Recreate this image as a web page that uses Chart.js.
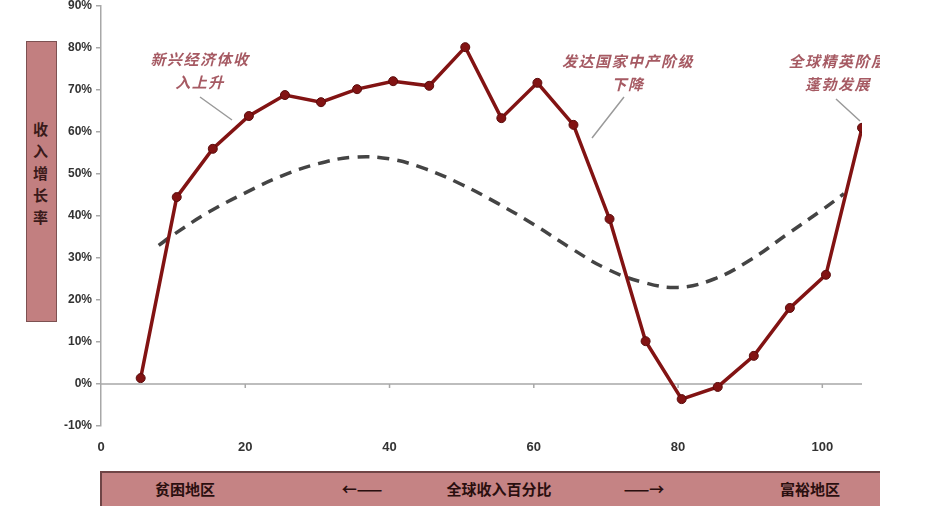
<!DOCTYPE html>
<html>
<head>
  <meta charset="utf-8">
  <title>全球收入增长率</title>
  <script src="https://cdn.jsdelivr.net/npm/chart.js"></script>
  <style>
    html, body {
      margin: 0;
      padding: 0;
      background: #fff;
      font-family: 'Noto Sans CJK SC', sans-serif;
    }
    .wrap {
      position: relative;
      width: 880px;
      height: 530px;
      overflow: hidden;
    }
    canvas { position: absolute; left: 0; top: 0; }
    .ylabel {
      position: absolute;
      left: 26px; top: 41px;
      width: 31px; height: 281px;
      background: #c27f80;
      border: 1.5px solid #7d5152;
      box-sizing: border-box;
      writing-mode: vertical-rl;
      text-orientation: upright;
      font-weight: bold;
      font-size: 15px;
      line-height: 31px;
      color: #3a1a1a;
      padding-top: 80px;
      letter-spacing: 7px;
    }
    .bar {
      position: absolute;
      left: 100px; top: 471px;
      width: 790px; height: 35px;
      background: #c58384;
      border-top: 2px solid #6f4546;
      border-left: 2px solid #6f4546;
      box-sizing: border-box;
      font-weight: bold;
      font-size: 15px;
      color: #2a0f0f;
    }
    .bar span { position: absolute; top: 5px; transform: translateX(-50%); white-space: nowrap; }
    .note {
      position: absolute;
      transform: translateX(-50%);
      text-align: center;
      white-space: nowrap;
      font-style: italic;
      font-weight: bold;
      font-size: 15px;
      line-height: 23px;
      letter-spacing: 1.5px;
      color: #a65a63;
    }
  </style>
</head>
<body>

<div class="wrap">
  <canvas id="chart" width="880" height="530"></canvas>
  <div class="ylabel">收入增长率</div>
  <div class="note" style="left:200px; top:47px;">新兴经济体收<br>入上升</div>
  <div class="note" style="left:628px; top:49px;">发达国家中产阶级<br>下降</div>
  <div class="note" style="left:838px; top:49px;">全球精英阶层<br>蓬勃发展</div>
  <div class="bar">
    <span style="left:83px;">贫困地区</span>
    <span style="left:260px;">←——</span>
    <span style="left:397px;">全球收入百分比</span>
    <span style="left:542px;">——→</span>
    <span style="left:708px;">富裕地区</span>
  </div>
</div>

<script>
  // 全球收入百分位
  const percentiles = [5.5, 10.5, 15.5, 20.5, 25.5, 30.5, 35.5, 40.5, 45.5, 50.5, 55.5,
                       60.5, 65.5, 70.5, 75.5, 80.5, 85.5, 90.5, 95.5, 100.5, 105.5];
  // 实际收入增长率 (%)
  const growth = [1.4, 44.5, 56, 63.8, 68.8, 67.1, 70.2, 72.1, 71, 80.2, 63.3,
                  71.7, 61.7, 39.3, 10.2, -3.6, -0.7, 6.7, 18.1, 26, 61];
  // 趋势线 (虚线)
  const trendX = [8, 10, 15, 20, 25, 30, 35, 40, 45, 50, 55, 60, 65, 70, 75, 80, 85, 90, 95, 100, 103];
  const trendY = [33, 35.5, 41, 45.5, 49.5, 52.4, 54, 53.6, 51.2, 47.5, 43, 38, 32.5, 27.5, 24.3, 23, 25, 29.5, 35.5, 41.5, 45.3];

  const xTicks = [0, 20, 40, 60, 80, 100];

  const axisColor = '#a8a8a8';

  const zeroLine = {
    id: 'zeroLine',
    beforeDatasetsDraw(chart) {
      const { ctx, chartArea, scales } = chart;
      const y0 = scales.y.getPixelForValue(0);
      ctx.save();
      ctx.strokeStyle = axisColor;
      ctx.lineWidth = 1.5;
      ctx.beginPath();
      ctx.moveTo(chartArea.left, y0);
      ctx.lineTo(chartArea.right, y0);
      xTicks.slice(1).forEach(v => {
        const x = scales.x.getPixelForValue(v);
        ctx.moveTo(x, y0);
        ctx.lineTo(x, y0 + 4);
      });
      ctx.stroke();
      // 注释引线
      ctx.strokeStyle = '#9a9a9a';
      ctx.lineWidth = 1.5;
      ctx.beginPath();
      ctx.moveTo(200, 97); ctx.lineTo(232, 120);
      ctx.moveTo(624, 97); ctx.lineTo(592, 138);
      ctx.moveTo(836, 99); ctx.lineTo(860, 121);
      ctx.stroke();
      ctx.restore();
    }
  };

  new Chart(document.getElementById('chart'), {
    type: 'line',
    data: {
      datasets: [{
        data: percentiles.map((x, i) => ({ x: x, y: growth[i] })),
        borderColor: '#821313',
        backgroundColor: '#821313',
        borderWidth: 3.5,
        pointRadius: 4.5,
        pointBackgroundColor: '#821313',
        pointBorderColor: '#5a0c0c',
        pointBorderWidth: 1,
        tension: 0
      }, {
        data: trendX.map((x, i) => ({ x: x, y: trendY[i] })),
        borderColor: '#444',
        borderWidth: 3.5,
        borderDash: [12, 8],
        pointRadius: 0,
        tension: 0.4
      }]
    },
    options: {
      responsive: false,
      animation: false,
      layout: { padding: { left: 0, right: 18, top: 0, bottom: 0 } },
      plugins: {
        legend: { display: false },
        tooltip: { enabled: false }
      },
      scales: {
        x: {
          type: 'linear',
          min: 0,
          max: 105.5,
          afterFit: s => { s.height = 104; },
          afterBuildTicks: s => { s.ticks = xTicks.map(v => ({ value: v })); },
          grid: { display: false, drawTicks: false },
          border: { display: false },
          ticks: {
            padding: 14,
            color: '#333',
            font: { family: 'Liberation Sans', size: 13, weight: 'bold' },
            maxRotation: 0
          }
        },
        y: {
          min: -10,
          max: 90,
          afterFit: s => { s.width = 101; s.paddingTop = 6; },
          grid: { drawOnChartArea: false, tickLength: 5, color: axisColor, lineWidth: 1.5 },
          border: { color: axisColor, width: 1.5 },
          ticks: {
            stepSize: 10,
            padding: 4,
            color: '#333',
            font: { family: 'Liberation Sans', size: 12, weight: 'bold' },
            callback: v => v + '%'
          }
        }
      }
    },
    plugins: [zeroLine]
  });
</script>

</body>
</html>
